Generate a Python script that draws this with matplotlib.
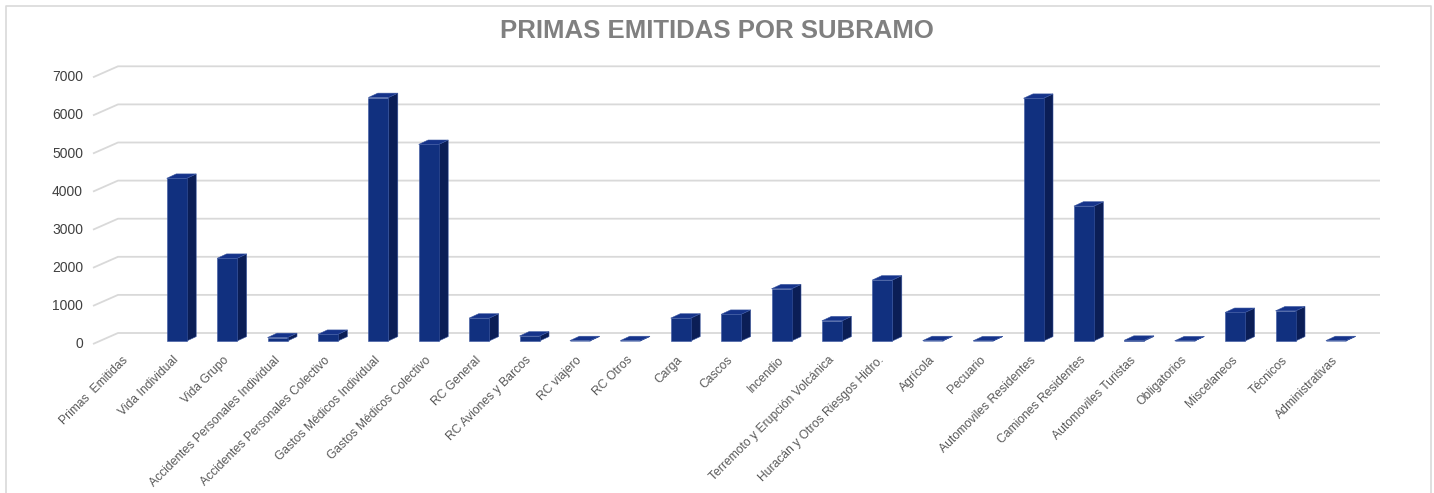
import matplotlib
matplotlib.use("Agg")
import matplotlib.pyplot as plt
from matplotlib.patches import Polygon
from matplotlib.lines import Line2D
import numpy as np

# ---------------- data ----------------
categories = [
    "Primas  Emitidas", "Vida Individual", "Vida Grupo",
    "Accidentes Personales Individual", "Accidentes Personales Colectivo",
    "Gastos Médicos Individual", "Gastos Médicos Colectivo", "RC General",
    "RC Aviones y Barcos", "RC viajero", "RC Otros", "Carga", "Cascos",
    "Incendio", "Terremoto y Erupción Volcánica",
    "Huracán y Otros Riesgos Hidro.", "Agrícola", "Pecuario",
    "Automoviles Residentes", "Camiones Residentes", "Automoviles Turistas",
    "Obligatorios", "Miscelaneos", "Técnicos", "Administrativas",
]
values = [
    None, 4270, 2170, 90, 175, 6390, 5160, 600, 130, 10, 10, 600, 700,
    1370, 530, 1600, 10, 5, 6370, 3540, 20, 5, 750, 790, 10,
]
y_ticks = [0, 1000, 2000, 3000, 4000, 5000, 6000, 7000]
title = "PRIMAS EMITIDAS POR SUBRAMO"

# ---------------- style ----------------
W, H, DPI = 1434, 493, 100
X0_PX, DX_PX = 126.3, 50.4          # center of first category, spacing (px)
BASE_PX, PX_PER_UNIT = 341.0, 38.1 / 1000.0
FRONT_COL = "#11307f"
SIDE_COL = "#0b1e56"
TOP_COL = "#15338a"
EDGE_COL = "#3a56a0"
GRID_COL = "#d9d9d9"

BAR_W = 20.0 / DX_PX                # front face width (category units)
DEPTH_X = 9.5 / DX_PX               # depth offset x
DEPTH_Y = 4.4 / PX_PER_UNIT         # depth offset y (value units)
BACK_Y = 8.0 / PX_PER_UNIT          # back wall offset
LABEL_Y = -3.0 / PX_PER_UNIT        # front label offset

plt.rcParams["font.family"] = ["Liberation Sans", "DejaVu Sans"]

fig = plt.figure(figsize=(W / DPI, H / DPI), dpi=DPI)
ax = fig.add_axes([0, 0, 1, 1])
ax.set_xlim(-X0_PX / DX_PX, (W - X0_PX) / DX_PX)
ax.set_ylim(-(H - BASE_PX) / PX_PER_UNIT, BASE_PX / PX_PER_UNIT)
ax.axis("off")

# border of chart area (left, top, right)
bx0, bx1, by1 = 5.5 / W, 1430.5 / W, 1 - 5.5 / H
fig.lines.append(Line2D([bx0, bx0, bx1, bx1], [0, by1, by1, 0],
                        transform=fig.transFigure, color=GRID_COL, lw=1.2))

# gridlines (back wall + slanted floor edge)
x_lab = (93 - X0_PX) / DX_PX
x_back = (118 - X0_PX) / DX_PX
x_right = (1380 - X0_PX) / DX_PX
for t in y_ticks:
    ax.plot([x_lab, x_back, x_right], [t + LABEL_Y, t + BACK_Y, t + BACK_Y],
            color=GRID_COL, lw=1.3, zorder=1, solid_capstyle="butt")
    ax.text((83 - X0_PX) / DX_PX, t + LABEL_Y, f"{t}", ha="right",
            va="center", fontsize=10, color="#404040")

# 3D-looking bars
for i, v in enumerate(values):
    if v is None:
        continue
    x0, x1 = i - BAR_W / 2, i + BAR_W / 2
    ax.bar(i, v, width=BAR_W, bottom=0, color=FRONT_COL, edgecolor=EDGE_COL,
           linewidth=0.4, zorder=3)
    side = [(x1, 0), (x1 + DEPTH_X, DEPTH_Y), (x1 + DEPTH_X, v + DEPTH_Y),
            (x1, v)]
    top = [(x0, v), (x1, v), (x1 + DEPTH_X, v + DEPTH_Y),
           (x0 + DEPTH_X, v + DEPTH_Y)]
    ax.add_patch(Polygon(side, closed=True, facecolor=SIDE_COL,
                         edgecolor=EDGE_COL, linewidth=0.4, zorder=2.5))
    ax.add_patch(Polygon(top, closed=True, facecolor=TOP_COL,
                         edgecolor=EDGE_COL, linewidth=0.4, zorder=3.5))

# category labels
lab_y = -13.0 / PX_PER_UNIT
for i, c in enumerate(categories):
    ax.text(i - 0.08, lab_y, c, rotation=45, rotation_mode="anchor",
            ha="right", va="top", fontsize=8.7, color="#595959")

fig.text(0.5, 1 - 31.5 / H, title, ha="center", va="center",
         fontsize=18.5, fontweight="bold", color="#808080")

fig.savefig("out.png", dpi=DPI)
